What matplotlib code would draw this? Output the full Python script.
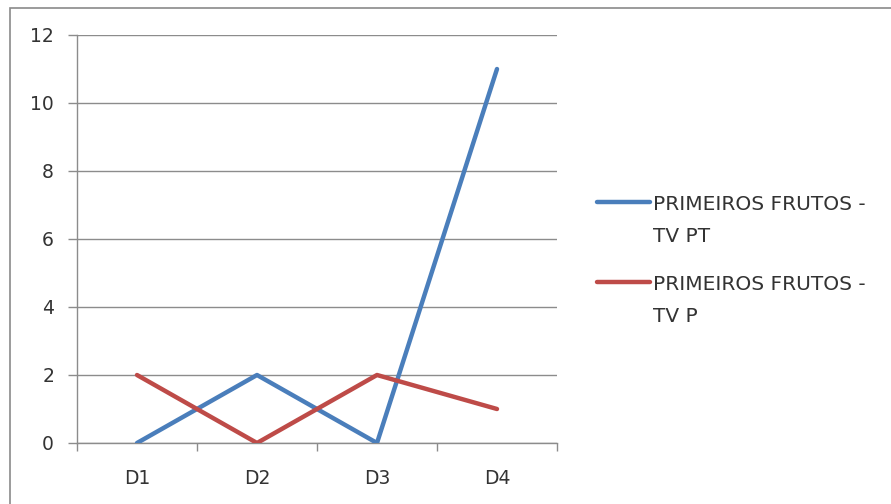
import matplotlib
matplotlib.use("Agg")
import matplotlib.pyplot as plt
from matplotlib.lines import Line2D
from matplotlib.patches import Rectangle

# Data
categories = ["D1", "D2", "D3", "D4"]
tv_pt = [0, 2, 0, 11]
tv_p = [2, 0, 2, 1]
series_labels = ["PRIMEIROS FRUTOS -\nTV PT", "PRIMEIROS FRUTOS -\nTV P"]
y_ticks = [0, 2, 4, 6, 8, 10, 12]

blue = "#4A7EBB"
red = "#BE4B48"
grid_col = "#8C8C8C"
text_col = "#333333"
fs = 13.5
legend_fs = 14.5

plt.rcParams["font.family"] = ["DejaVu Sans"]

W, H = 891, 504
fig = plt.figure(figsize=(W / 100, H / 100), dpi=100)

# Outer chart frame
fig.add_artist(Rectangle((10 / W, -0.05), 1.2, (H - 8) / H + 0.05,
                         transform=fig.transFigure, fill=False,
                         edgecolor="#8A8A8A", linewidth=1.2))

ax = fig.add_axes([77 / W, 1 - 443 / H, 480 / W, 408 / H])
x = list(range(1, len(categories) + 1))

ax.plot(x, tv_pt, color=blue, linewidth=3.2, solid_capstyle="round", zorder=3)
ax.plot(x, tv_p, color=red, linewidth=3.2, solid_capstyle="round", zorder=3)

ax.set_xlim(0.5, len(categories) + 0.5)
ax.set_ylim(0, 12)
ax.set_yticks(y_ticks)
ax.set_yticklabels([str(v) for v in y_ticks])
ax.set_xticks(x)
ax.set_xticklabels(categories)
ax.set_xticks([i + 0.5 for i in range(len(categories) + 1)], minor=True)

ax.grid(axis="y", color=grid_col, linewidth=1.0, zorder=1)
for s in ["top", "right"]:
    ax.spines[s].set_visible(False)
for s in ["left", "bottom"]:
    ax.spines[s].set_color(grid_col)
    ax.spines[s].set_linewidth(1.0)

ax.tick_params(axis="y", length=6.5, width=1.0, color=grid_col, pad=10,
               labelsize=fs, labelcolor=text_col)
ax.tick_params(axis="x", which="major", length=0, pad=19,
               labelsize=fs, labelcolor=text_col)
ax.tick_params(axis="x", which="minor", length=5.5, width=1.0, color=grid_col)

# Legend
for col, lab, yy in [(blue, series_labels[0], 202), (red, series_labels[1], 282)]:
    fig.add_artist(Line2D([597 / W, 650 / W], [1 - yy / H, 1 - yy / H],
                          transform=fig.transFigure, color=col, linewidth=3.2,
                          solid_capstyle="round"))
    for k, part in enumerate(lab.split("\n")):
        fig.text(653 / W, 1 - (yy + 2 + 33 * k) / H, part, ha="left",
                 va="center", fontsize=legend_fs, color=text_col)

fig.savefig("out.png", dpi=100)
